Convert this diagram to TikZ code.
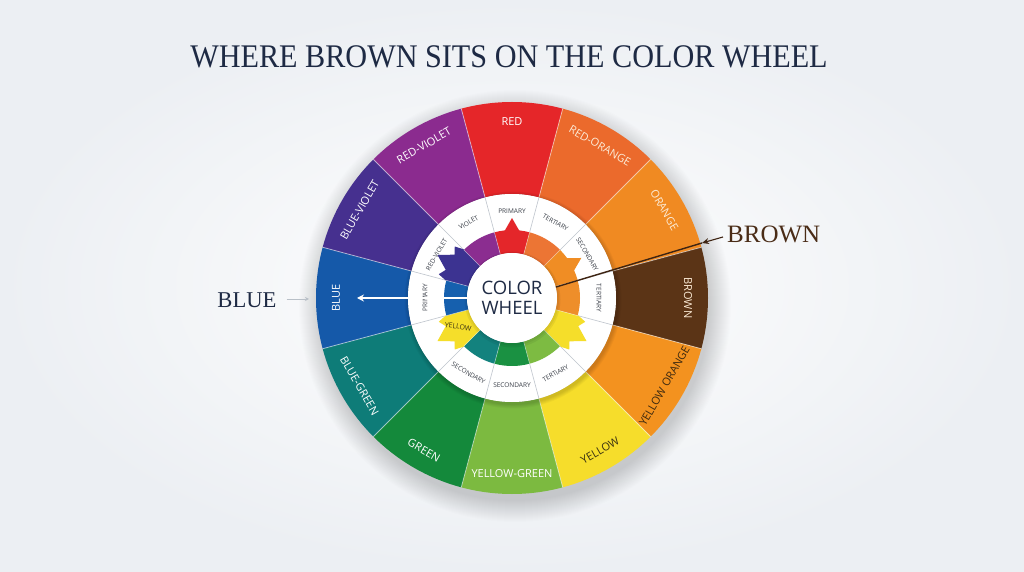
\documentclass[tikz,border=0pt]{standalone}
\usepackage{fontspec}
\usepackage{graphicx}
\usetikzlibrary{arrows.meta}
\newfontfamily\ttlfont{Liberation Serif}
\newfontfamily\labfont{Open Sans}
\definecolor{bgOut}{HTML}{ECEFF3}
\definecolor{navy}{HTML}{1E2A44}
\definecolor{brtxt}{HTML}{4A2C17}
\definecolor{brline}{HTML}{3E2412}
\definecolor{greyarr}{HTML}{B9C0C8}
\definecolor{ringtxt}{HTML}{3A3F48}
\definecolor{divgrey}{HTML}{BEC4CC}
\definecolor{cCream}{HTML}{FCEBD6}
\definecolor{cDk}{HTML}{3A3212}
\definecolor{cDkBr}{HTML}{3E2A10}
\definecolor{cRed}{HTML}{E52629}
\definecolor{cRO}{HTML}{EB6A2C}
\definecolor{cOr}{HTML}{F08A22}
\definecolor{cBr}{HTML}{5B3416}
\definecolor{cYO}{HTML}{F3921F}
\definecolor{cYe}{HTML}{F6DD2B}
\definecolor{cYG}{HTML}{7CBA40}
\definecolor{cGr}{HTML}{14893B}
\definecolor{cBG}{HTML}{0E7C78}
\definecolor{cBl}{HTML}{1559A9}
\definecolor{cBV}{HTML}{46308F}
\definecolor{cRV}{HTML}{8B2B8F}
\definecolor{iRed}{HTML}{E4262A}
\definecolor{iRO}{HTML}{EC7534}
\definecolor{iOr}{HTML}{F08D24}
\definecolor{iOr2}{HTML}{EE8E2A}
\definecolor{iYe}{HTML}{F5DE2A}
\definecolor{iYG}{HTML}{7DBB42}
\definecolor{iGr}{HTML}{1A9142}
\definecolor{iTe}{HTML}{13827E}
\definecolor{iBl}{HTML}{1660AE}
\definecolor{iIn}{HTML}{3C3391}
\definecolor{iPu}{HTML}{8B2D90}
\tikzset{
  seglabel/.style={font=\labfont\fontsize{11}{12}\selectfont, inner sep=0pt},
  ringlabel/.style={font=\labfont\fontsize{6.5}{7}\selectfont, text=ringtxt, inner sep=0pt},
  bigserif/.style={font=\ttlfont, inner sep=4pt},
  segdiv/.style={white, opacity=0.55, line width=0.8pt},
  ringdiv/.style={divgrey, line width=0.6pt},
}
\begin{document}
\begin{tikzpicture}[x=1pt,y=1pt]
\useasboundingbox (-512,-274) rectangle (512,298);
% background
\shade[inner color=white, outer color=bgOut] (-512,-274) rectangle (512,298);
% wheel shadow (soft)
\foreach \i in {1,...,22}
  \fill[black, opacity=0.008] (3,-8) circle[radius={194pt+\i*1.0pt}];
% outer segments
\foreach \a/\c in {90/cRed, 60/cRO, 30/cOr, 0/cBr, -30/cYO, -60/cYe, -90/cYG, -120/cGr, -150/cBG, 180/cBl, 150/cBV, 120/cRV}
  \fill[\c] (\a-15:104) arc[start angle=\a-15, end angle=\a+15, radius=104pt]
     -- (\a+15:196) arc[start angle=\a+15, end angle=\a-15, radius=196pt] -- cycle;
\foreach \a in {15,45,...,345}
  \draw[segdiv] (\a:104) -- (\a:196);
% shadow of white ring
\foreach \i in {1,...,5}
  \fill[black, opacity=0.03] (1,-2) circle[radius={104pt+\i*0.9pt}];
% white label ring
\fill[white] (0,0) circle[radius=104pt];
\foreach \a in {15,45,...,345}
  \draw[ringdiv] (\a:45) -- (\a:104);
% inner colored ring
\foreach \a/\c/\s in {90/iRed/1, 60/iRO/0, 30/iOr/1, 0/iOr2/0, -30/iYe/2, -60/iYG/0, -90/iGr/0, -120/iTe/0, -150/iYe/2, 180/iBl/0, 150/iIn/2, 120/iPu/0}{
  \ifnum\s=0
    \fill[\c] (\a-15:45) -- (\a-15:68) arc[start angle=\a-15, end angle=\a+15, radius=68pt]
      -- (\a+15:45) arc[start angle=\a+15, end angle=\a-15, radius=45pt] -- cycle;
  \fi
  \ifnum\s=1
    \fill[\c] (\a-15:45) -- (\a-15:68) arc[start angle=\a-15, end angle=\a-6, radius=68pt]
      -- (\a:80) -- (\a+6:68) arc[start angle=\a+6, end angle=\a+15, radius=68pt]
      -- (\a+15:45) arc[start angle=\a+15, end angle=\a-15, radius=45pt] -- cycle;
  \fi
  \ifnum\s=2
    \fill[\c] (\a-15:45) -- (\a-15:69) -- (\a-12:77) -- (\a-7:72) -- (\a:86)
      -- (\a+7:72) -- (\a+12:77) -- (\a+15:69)
      -- (\a+15:45) arc[start angle=\a+15, end angle=\a-15, radius=45pt] -- cycle;
  \fi
}
\foreach \a in {15,45,...,345}
  \draw[white, opacity=0.5, line width=0.6pt] (\a:45) -- (\a:68);
% outer segment labels
\foreach \a/\t/\tc in {90/RED/white, 60/RED-ORANGE/cCream, 30/ORANGE/cCream, 0/BROWN/cCream, -30/YELLOW ORANGE/cDkBr, -60/YELLOW/cDk, -90/YELLOW-GREEN/white, -120/GREEN/white, -150/BLUE-GREEN/white, 180/BLUE/white, 150/BLUE-VIOLET/white, 120/RED-VIOLET/white}{
  \pgfmathsetmacro{\rot}{\a>=0 ? \a-90 : \a+90}
  \node[seglabel, text=\tc, rotate=\rot] (seg\a) at (\a:176) {\t};
}
% ring labels
\foreach \a/\t in {90/PRIMARY, 60/TERTIARY, 30/SECONDARY, 0/TERTIARY, -60/TERTIARY, -90/SECONDARY, -120/SECONDARY, 180/PRIMARY, 150/RED-VIOLET, 120/VIOLET}{
  \pgfmathsetmacro{\rot}{\a>=0 ? \a-90 : \a+90}
  \node[ringlabel, rotate=\rot] (ring\a) at (\a:87) {\t};
}
\node[ringlabel, text=cDk, rotate=-8, font=\labfont\fontsize{7}{8}\selectfont] (ringyel) at (-152:61) {YELLOW};
% center circle
\fill[black, opacity=0.06] (0.5,-1.5) circle[radius=48pt];
\fill[black, opacity=0.05] (0.5,-1) circle[radius=46.5pt];
\node[circle, fill=white, minimum size=90pt, inner sep=0pt, align=center,
      font=\labfont\fontsize{18.5}{21}\selectfont, text=navy] (cw) at (0,0) {COLOR\\[-1pt]WHEEL};
% title
\node[font=\ttlfont\fontsize{33}{36}\selectfont, text=navy, anchor=base, inner sep=0pt] (title) at (-3,230)
  {\scalebox{0.915}[1]{WHERE BROWN SITS ON THE COLOR WHEEL}};
% BLUE callout
\node[bigserif, text=navy, font=\ttlfont\fontsize{22.6}{24}\selectfont, anchor=base] (bluelbl) at (-265,-10) {BLUE};
\coordinate (bluetip) at (-203,-1);
\draw[greyarr, line width=0.9pt, -{Stealth[length=4pt,width=4pt]}, shorten <=6pt] (bluelbl.east |- bluetip) -- (bluetip);
\coordinate (wtip) at (-155,0);
\draw[white, line width=1.6pt, -{Stealth[length=7pt,width=7pt]}] (cw.west) -- (wtip);
% BROWN callout
\node[bigserif, text=brtxt, font=\ttlfont\fontsize{25}{27}\selectfont, anchor=base west] (brownlbl) at (211,55) {BROWN};
\coordinate (bedge) at (190,55);
\draw[brline, line width=1.1pt, -{Stealth[length=7pt,width=6pt]}] (brownlbl.west |- 0,61) -- (bedge);
\draw[brline, line width=1.4pt] (bedge) -- (cw.14);
\end{tikzpicture}
\end{document}
